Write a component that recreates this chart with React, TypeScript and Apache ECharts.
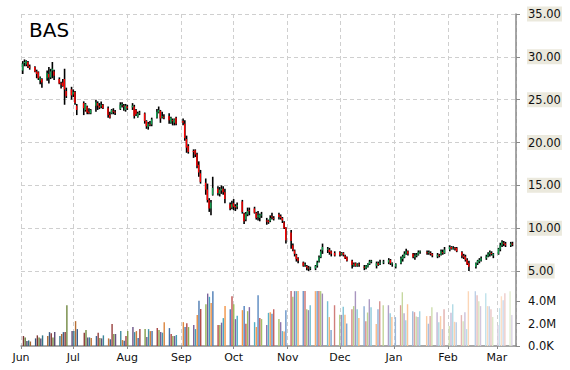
import React, { useEffect, useRef } from 'react';
import * as echarts from 'echarts';

const TITLE = 'BAS';
const MONTH_NAMES = ['Jan', 'Feb', 'Mar', 'Apr', 'May', 'Jun', 'Jul', 'Aug', 'Sep', 'Oct', 'Nov', 'Dec'];
const X_MIN = '2014-06-01';
const X_MAX = '2015-03-12';

// trading months and their trading days
const MONTHS = ['2014-06', '2014-07', '2014-08', '2014-09', '2014-10', '2014-11', '2014-12', '2015-01', '2015-02', '2015-03'];
const DAYS: number[][] = [
  [2, 3, 4, 5, 6, 9, 10, 11, 12, 13, 16, 17, 18, 19, 20, 23, 24, 25, 26, 27, 30],
  [1, 2, 3, 7, 8, 9, 10, 11, 14, 15, 16, 17, 18, 21, 22, 23, 24, 25, 28, 29, 30, 31],
  [1, 4, 5, 6, 7, 8, 11, 12, 13, 14, 15, 18, 19, 20, 21, 22, 25, 26, 27, 28, 29],
  [2, 3, 4, 5, 8, 9, 10, 11, 12, 15, 16, 17, 18, 19, 22, 23, 24, 25, 26, 29, 30],
  [1, 2, 3, 6, 7, 8, 9, 10, 13, 14, 15, 16, 17, 20, 21, 22, 23, 24, 27, 28, 29, 30, 31],
  [3, 4, 5, 6, 7, 10, 11, 12, 13, 14, 17, 18, 19, 20, 21, 24, 25, 26, 28],
  [1, 2, 3, 4, 5, 8, 9, 10, 11, 12, 15, 16, 17, 18, 19, 22, 23, 24, 26, 29, 30, 31],
  [2, 5, 6, 7, 8, 9, 12, 13, 14, 15, 16, 20, 21, 22, 23, 26, 27, 28, 29, 30],
  [2, 3, 4, 5, 6, 9, 10, 11, 12, 13, 17, 18, 19, 20, 23, 24, 25, 26, 27],
  [2, 3, 4, 5, 6, 9, 10],
];

// [open, close, low, high]
const ohlcJun = [[28.4, 29.2, 28.0, 29.5], [29.3, 29.4, 28.9, 29.7], [29.1, 29.5, 28.9, 29.6], [29.4, 28.9, 28.7, 29.5], [28.9, 28.7, 28.5, 29.1], [28.8, 28.3, 28.2, 28.9], [28.3, 28.0, 27.5, 28.5], [28.2, 27.5, 27.3, 28.3], [27.2, 27.6, 26.8, 27.7], [27.4, 27.0, 26.4, 27.5], [27.5, 28.1, 27.2, 28.4], [28.0, 27.6, 26.9, 28.8], [27.6, 28.3, 27.4, 28.6], [28.4, 28.6, 27.5, 29.4], [28.3, 27.8, 27.3, 28.5], [27.4, 26.9, 26.8, 27.6], [26.9, 26.8, 26.3, 27.1], [27.0, 26.6, 26.5, 27.4], [27.4, 26.2, 24.4, 28.6], [26.0, 25.4, 25.2, 26.4], [26.2, 25.5, 25.0, 26.5]];
const ohlcJul = [[25.6, 25.9, 25.3, 26.2], [25.9, 24.6, 24.4, 26.0], [24.3, 23.8, 23.2, 24.5], [24.6, 24.0, 23.2, 24.8], [23.8, 24.5, 23.6, 24.6], [24.2, 23.5, 23.3, 24.3], [23.6, 23.4, 23.3, 24.0], [23.4, 23.8, 23.3, 23.9], [24.3, 24.7, 23.6, 25.0], [24.6, 24.3, 23.8, 24.8], [24.3, 24.1, 23.9, 24.6], [24.2, 24.4, 24.0, 24.8], [24.4, 24.0, 23.9, 24.5], [24.0, 23.2, 22.9, 24.2], [23.2, 22.9, 22.8, 23.6], [23.4, 23.8, 23.3, 23.9], [23.7, 23.6, 23.3, 24.0], [23.6, 23.5, 23.2, 23.8], [23.9, 24.4, 23.8, 24.7], [24.4, 24.5, 24.1, 24.7], [24.3, 24.2, 23.7, 24.5], [23.8, 24.3, 23.6, 24.5]];
const ohlcAug = [[24.2, 24.0, 23.8, 24.4], [24.1, 24.3, 23.8, 24.6], [24.2, 23.1, 22.8, 24.4], [23.8, 23.3, 23.1, 23.9], [23.0, 23.4, 22.9, 23.6], [23.4, 23.5, 23.2, 23.7], [23.4, 22.5, 22.2, 23.5], [22.5, 21.9, 21.6, 22.6], [21.8, 22.2, 21.5, 22.4], [22.2, 22.1, 21.9, 22.5], [22.1, 22.7, 21.9, 22.9], [22.9, 23.6, 22.8, 23.9], [23.5, 23.8, 23.4, 24.2], [23.7, 22.8, 22.3, 23.8], [22.9, 23.1, 22.8, 23.6], [23.0, 22.9, 22.7, 23.3], [23.1, 22.6, 22.2, 23.4], [22.3, 22.9, 22.2, 23.0], [22.6, 22.5, 22.0, 22.8], [22.3, 22.7, 22.0, 22.8], [22.9, 22.2, 22.0, 23.0]];
const ohlcSep = [[22.5, 22.3, 22.0, 22.8], [22.2, 20.5, 20.2, 22.6], [20.4, 19.4, 18.8, 20.8], [19.6, 18.9, 18.7, 19.8], [19.0, 18.9, 18.2, 19.2], [19.1, 18.6, 18.3, 19.2], [18.6, 17.3, 17.0, 18.8], [17.4, 16.5, 16.0, 17.8], [16.4, 15.4, 15.2, 16.8], [15.3, 14.5, 13.9, 15.8], [14.5, 13.3, 13.0, 15.2], [13.3, 12.3, 11.9, 13.5], [12.3, 13.0, 11.5, 13.3], [13.9, 14.7, 13.8, 16.0], [14.6, 14.1, 13.8, 14.9], [14.0, 14.5, 13.7, 14.8], [14.4, 14.6, 14.0, 15.0], [14.6, 14.2, 13.9, 14.9], [14.2, 13.4, 12.9, 14.6], [12.8, 12.3, 12.1, 13.0], [12.4, 12.8, 12.2, 13.2]];
const ohlcOct = [[12.9, 12.5, 12.1, 13.4], [12.6, 12.4, 12.0, 12.8], [12.5, 12.7, 12.2, 13.0], [13.1, 11.9, 11.7, 13.3], [11.7, 10.8, 10.5, 11.8], [11.0, 11.7, 10.8, 11.9], [11.6, 12.0, 11.4, 12.4], [12.1, 12.0, 11.5, 12.4], [12.3, 11.8, 11.7, 12.5], [11.8, 11.2, 11.0, 11.9], [11.3, 11.5, 10.9, 12.0], [11.2, 11.6, 10.8, 11.7], [11.5, 11.6, 11.2, 11.9], [10.9, 10.8, 10.4, 11.2], [10.9, 10.7, 10.5, 11.0], [10.8, 11.2, 10.7, 11.5], [11.4, 11.3, 11.0, 11.8], [11.2, 11.1, 10.9, 11.4], [11.6, 11.3, 11.0, 11.8], [11.4, 11.2, 11.0, 11.6], [11.2, 10.9, 10.6, 11.3], [10.7, 10.0, 9.9, 10.8], [10.1, 8.6, 8.2, 10.1]];
const ohlcNov = [[9.5, 8.5, 7.6, 9.8], [8.0, 7.5, 7.3, 8.2], [7.4, 7.0, 6.7, 7.5], [6.9, 6.4, 6.1, 7.0], [6.5, 6.2, 5.9, 6.6], [6.0, 5.6, 5.5, 6.1], [5.7, 5.8, 5.5, 6.0], [5.6, 5.4, 5.1, 5.7], [5.4, 5.3, 5.0, 5.6], [5.3, 5.4, 5.1, 5.5], [5.3, 5.6, 5.1, 5.7], [5.6, 6.0, 5.4, 6.2], [6.1, 6.6, 6.0, 6.8], [6.6, 7.3, 6.5, 7.5], [7.4, 7.8, 7.0, 8.2], [7.5, 7.6, 7.1, 7.8], [7.5, 7.2, 6.9, 7.7], [7.3, 7.0, 6.7, 7.4], [7.1, 6.8, 6.7, 7.3]];
const ohlcDec = [[7.2, 6.9, 6.7, 7.3], [6.9, 7.1, 6.8, 7.2], [7.1, 6.9, 6.7, 7.2], [6.8, 6.5, 6.4, 6.9], [6.6, 6.2, 6.1, 6.7], [6.2, 5.7, 5.3, 6.3], [5.6, 5.8, 5.5, 6.0], [5.9, 5.6, 5.5, 6.0], [5.6, 5.8, 5.5, 5.9], [5.8, 5.7, 5.5, 6.0], [5.5, 5.4, 5.1, 5.7], [5.3, 5.6, 5.2, 5.7], [5.5, 5.8, 5.4, 5.9], [5.8, 6.1, 5.7, 6.3], [6.1, 6.2, 5.9, 6.3], [5.6, 5.9, 5.3, 6.1], [5.9, 5.7, 5.6, 6.1], [5.8, 6.0, 5.7, 6.3], [6.0, 6.1, 5.8, 6.3], [6.0, 6.3, 5.8, 6.5], [6.3, 5.9, 5.7, 6.4], [5.8, 5.9, 5.5, 6.0]];
const ohlcJan = [[5.5, 5.8, 5.3, 5.9], [5.9, 6.5, 5.8, 6.7], [6.4, 6.7, 6.1, 6.9], [6.6, 7.0, 6.5, 7.3], [7.0, 7.3, 6.9, 7.6], [7.3, 7.0, 6.8, 7.4], [7.0, 6.6, 6.5, 7.1], [6.6, 6.8, 6.3, 7.1], [6.8, 6.9, 6.6, 7.1], [6.9, 7.2, 6.8, 7.4], [7.2, 7.3, 7.0, 7.4], [7.2, 7.1, 6.9, 7.4], [7.1, 7.2, 6.9, 7.4], [7.1, 7.0, 6.8, 7.3], [7.0, 6.8, 6.6, 7.1], [6.7, 6.9, 6.5, 7.1], [6.9, 6.8, 6.6, 7.0], [6.9, 7.3, 6.8, 7.5], [7.2, 7.1, 6.9, 7.5], [7.1, 7.5, 7.0, 7.8]];
const ohlcFeb = [[7.5, 7.8, 7.3, 8.0], [7.8, 7.6, 7.5, 7.9], [7.6, 7.7, 7.5, 7.9], [7.7, 7.6, 7.4, 7.8], [7.7, 7.3, 7.2, 7.8], [7.2, 6.8, 6.5, 7.3], [6.8, 6.6, 6.4, 7.0], [6.7, 6.3, 6.1, 6.9], [6.3, 5.8, 5.7, 6.5], [5.9, 5.5, 5.0, 6.2], [5.5, 5.9, 5.3, 6.0], [5.9, 6.2, 5.7, 6.3], [6.1, 6.3, 5.9, 6.5], [6.2, 6.5, 6.1, 6.7], [6.5, 6.7, 6.3, 6.9], [6.7, 7.0, 6.6, 7.2], [7.0, 7.2, 6.7, 7.4], [7.1, 7.0, 6.8, 7.3], [6.8, 7.0, 6.5, 7.1]];
const ohlcMar = [[7.0, 7.6, 6.9, 7.7], [7.5, 8.0, 7.3, 8.3], [8.0, 8.4, 7.8, 8.6], [8.3, 8.2, 7.9, 8.5], [8.2, 8.0, 7.8, 8.4], [8.0, 8.2, 7.8, 8.4], [8.2, 8.1, 7.9, 8.4]];
const OHLC = [ohlcJun, ohlcJul, ohlcAug, ohlcSep, ohlcOct, ohlcNov, ohlcDec, ohlcJan, ohlcFeb, ohlcMar];

// volume, millions of shares
const volJun = [0.89, 0.77, 0.44, 0.5, 0.4, 0.68, 0.95, 0.77, 0.68, 0.95, 0.89, 1.24, 1.13, 0.77, 1.24, 0.89, 1.07, 1.24, 1.24, 3.64, 1.33];
const volJul = [1.33, 2.22, 1.51, 1.19, 1.42, 0.77, 0.77, 0.71, 0.89, 1.19, 0.71, 0.68, 0.95, 0.68, 0.6, 1.96, 1.07, 1.07, 1.33, 0.53, 0.47, 0.89];
const volAug = [1.33, 1.69, 1.24, 1.33, 0.71, 1.51, 1.51, 0.8, 1.51, 1.33, 1.33, 1.6, 1.42, 1.24, 1.19, 2.13, 1.6, 1.07, 0.89, 0.89, 0.98];
const volSep = [2.13, 1.69, 2.04, 1.69, 1.87, 1.51, 2.76, 4.03, 3.3, 3.73, 4.68, 4.39, 3.85, 4.89, 1.87, 1.87, 2.08, 2.49, 3.58, 3.29, 4.44];
const volOct = [3.73, 2.4, 2.7, 3.2, 3.58, 1.99, 3.11, 3.47, 2.13, 1.69, 4.53, 2.49, 2.4, 1.87, 2.96, 3.02, 2.87, 3.29, 2.4, 2.13, 1.33, 1.3, 3.2];
const volNov = [4.9, 4.4, 4.9, 4.9, 4.9, 4.9, 4.9, 3.29, 3.2, 3.64, 4.9, 4.9, 4.9, 4.9, 4.68, 4.0, 2.58, 1.42, 3.64];
const volDec = [2.78, 2.78, 3.5, 2.78, 2.0, 3.29, 3.56, 4.89, 3.29, 2.5, 3.56, 2.22, 2.99, 4.18, 3.47, 1.96, 3.29, 4.0, 3.64, 3.64, 2.93, 2.58];
const volJan = [2.58, 3.64, 4.8, 2.93, 2.31, 3.73, 3.11, 3.02, 2.64, 2.58, 3.11, 2.67, 1.99, 2.67, 3.47, 3.02, 2.13, 2.67, 1.51, 3.29];
const volFeb = [1.78, 2.96, 3.73, 2.16, 2.13, 2.76, 2.22, 3.02, 1.51, 4.89, 4.89, 4.53, 4.0, 3.56, 4.71, 3.56, 3.56, 3.29, 2.58];
const volMar = [1.87, 3.38, 4.44, 4.09, 4.71, 4.89, 2.76];
const VOLUME = [volJun, volJul, volAug, volSep, volOct, volNov, volDec, volJan, volFeb, volMar];

const PRICE_TICKS = { min: 5, max: 35, step: 5 };
const VOL_TICKS = { min: 0, max: 5e6, step: 2e6 };

const VOL_PALETTE = ['#4F81BD', '#C0504D', '#9BBB59', '#8064A2', '#4BACC6', '#F79646'];
const UP_COLOR = '#12a150';
const DOWN_COLOR = '#ff0000';
const FONT = 'DejaVu Sans';

function shade(hex: string, amt: number): string {
  const c = [1, 3, 5].map((i) => parseInt(hex.slice(i, i + 2), 16));
  const out = c.map((v) => Math.round(amt < 0 ? v * (1 + amt) : v + (255 - v) * amt));
  return `rgb(${out[0]},${out[1]},${out[2]})`;
}

const pad = (n: number) => (n < 10 ? '0' + n : '' + n);

export default function App() {
  const ref = useRef<HTMLDivElement>(null);

  useEffect(() => {
    document.body.style.margin = '0';
    if (!ref.current) return;
    const chart = echarts.init(ref.current, undefined, { renderer: 'svg' });

    const candles: any[] = [];
    const vols: any[] = [];
    MONTHS.forEach((m, mi) => {
      DAYS[mi].forEach((d, di) => {
        const date = `${m}-${pad(d)}`;
        const [o, c, l, h] = OHLC[mi][di];
        candles.push([date, o, c, l, h]);
        vols.push({ date, v: VOLUME[mi][di] * 1e6 });
      });
    });
    const n = vols.length;
    const volData = vols.map((it, i) => {
      const u = i / (n - 1);
      const amt = u < 0.45 ? -0.35 * (0.45 - u) / 0.45 : 0.72 * (u - 0.45) / 0.55;
      return {
        value: [it.date, it.v],
        itemStyle: { color: shade(VOL_PALETTE[(i + 1) % VOL_PALETTE.length], amt) },
      };
    });

    const left = 21;
    const right = 54;
    const labelStyle = { fontFamily: FONT, fontSize: 11, color: '#111' };
    const hiddenX = (gi: number) => ({
      type: 'time', gridIndex: gi, min: X_MIN, max: X_MAX, show: false,
    });

    chart.setOption({
      animation: false,
      title: {
        text: TITLE, left: 29, top: 20, padding: 0,
        textStyle: { fontFamily: FONT, fontSize: 20, fontWeight: 'normal', color: '#000' },
      },
      grid: [
        { left, right, top: 14, height: 257, outerBoundsMode: 'none' },
        { left, right, top: 14, height: 332, outerBoundsMode: 'none' },
        { left, right, top: 290, height: 56, outerBoundsMode: 'none' },
      ],
      xAxis: [
        hiddenX(0),
        {
          type: 'time', gridIndex: 1, min: X_MIN, max: X_MAX,
          splitNumber: 10, minInterval: 28 * 86400000, maxInterval: 31 * 86400000,
          axisLine: { show: true, lineStyle: { color: '#8a8a8a', width: 1.5 } },
          axisTick: { show: true, length: 3, lineStyle: { color: '#8a8a8a' } },
          axisLabel: {
            ...labelStyle, margin: 6, hideOverlap: false, showMinLabel: true,
            formatter: (v: number) => MONTH_NAMES[new Date(v).getMonth()],
          },
          splitLine: { show: true, lineStyle: { color: '#cfcfcf', type: [4, 3], width: 1 } },
          minorTick: { show: false },
        },
        hiddenX(2),
      ],
      yAxis: [
        {
          type: 'value', gridIndex: 0, position: 'right',
          min: PRICE_TICKS.min, max: PRICE_TICKS.max, interval: PRICE_TICKS.step,
          axisLine: { show: false },
          axisTick: { show: true, length: 4, lineStyle: { color: '#8a8a8a' } },
          axisLabel: {
            ...labelStyle, fontSize: 11.5, margin: 11, padding: [2, 1, 1, 1],
            backgroundColor: '#ebe9dd',
            formatter: (v: number) => v.toFixed(2),
          },
          splitLine: { show: true, lineStyle: { color: '#cfcfcf', type: [4, 3], width: 1 } },
        },
        {
          type: 'value', gridIndex: 1, position: 'right', min: 0, max: 1,
          axisLine: { show: true, lineStyle: { color: '#8a8a8a', width: 1.5 } },
          axisTick: { show: false }, axisLabel: { show: false }, splitLine: { show: false },
        },
        {
          type: 'value', gridIndex: 2, position: 'right',
          min: VOL_TICKS.min, max: VOL_TICKS.max, interval: VOL_TICKS.step,
          axisLine: { show: false },
          axisTick: { show: true, length: 4, lineStyle: { color: '#8a8a8a' } },
          axisLabel: {
            ...labelStyle, fontSize: 11.5, margin: 12,
            showMaxLabel: false,
            formatter: (v: number) => (v === 0 ? '0.0K' : (v / 1e6).toFixed(1) + 'M'),
          },
          splitLine: { show: false },
        },
      ],
      series: [
        {
          type: 'bar', xAxisIndex: 2, yAxisIndex: 2, barWidth: 1.4,
          data: volData,
        },
        {
          type: 'custom', xAxisIndex: 0, yAxisIndex: 0,
          dimensions: ['date', 'open', 'close', 'low', 'high'],
          encode: { x: 0, y: [1, 2, 3, 4] },
          data: candles,
          renderItem: (params: any, api: any) => {
            const x = api.value(0);
            const o = api.value(1), c = api.value(2), l = api.value(3), h = api.value(4);
            const pH = api.coord([x, h]);
            const pL = api.coord([x, l]);
            const pO = api.coord([x, o]);
            const pC = api.coord([x, c]);
            const top = Math.min(pO[1], pC[1]);
            const bh = Math.max(Math.abs(pO[1] - pC[1]), 1);
            return {
              type: 'group',
              children: [
                { type: 'rect', shape: { x: pH[0] - 0.8, y: pH[1], width: 1.6, height: Math.max(pL[1] - pH[1], 1) }, style: { fill: '#000' } },
                { type: 'rect', shape: { x: pO[0] - 0.9, y: top, width: 1.4, height: bh }, style: { fill: c >= o ? UP_COLOR : DOWN_COLOR } },
              ],
            };
          },
        },
      ],
    });

    return () => chart.dispose();
  }, []);

  return <div ref={ref} style={{ width: 570, height: 370 }} />;
}
